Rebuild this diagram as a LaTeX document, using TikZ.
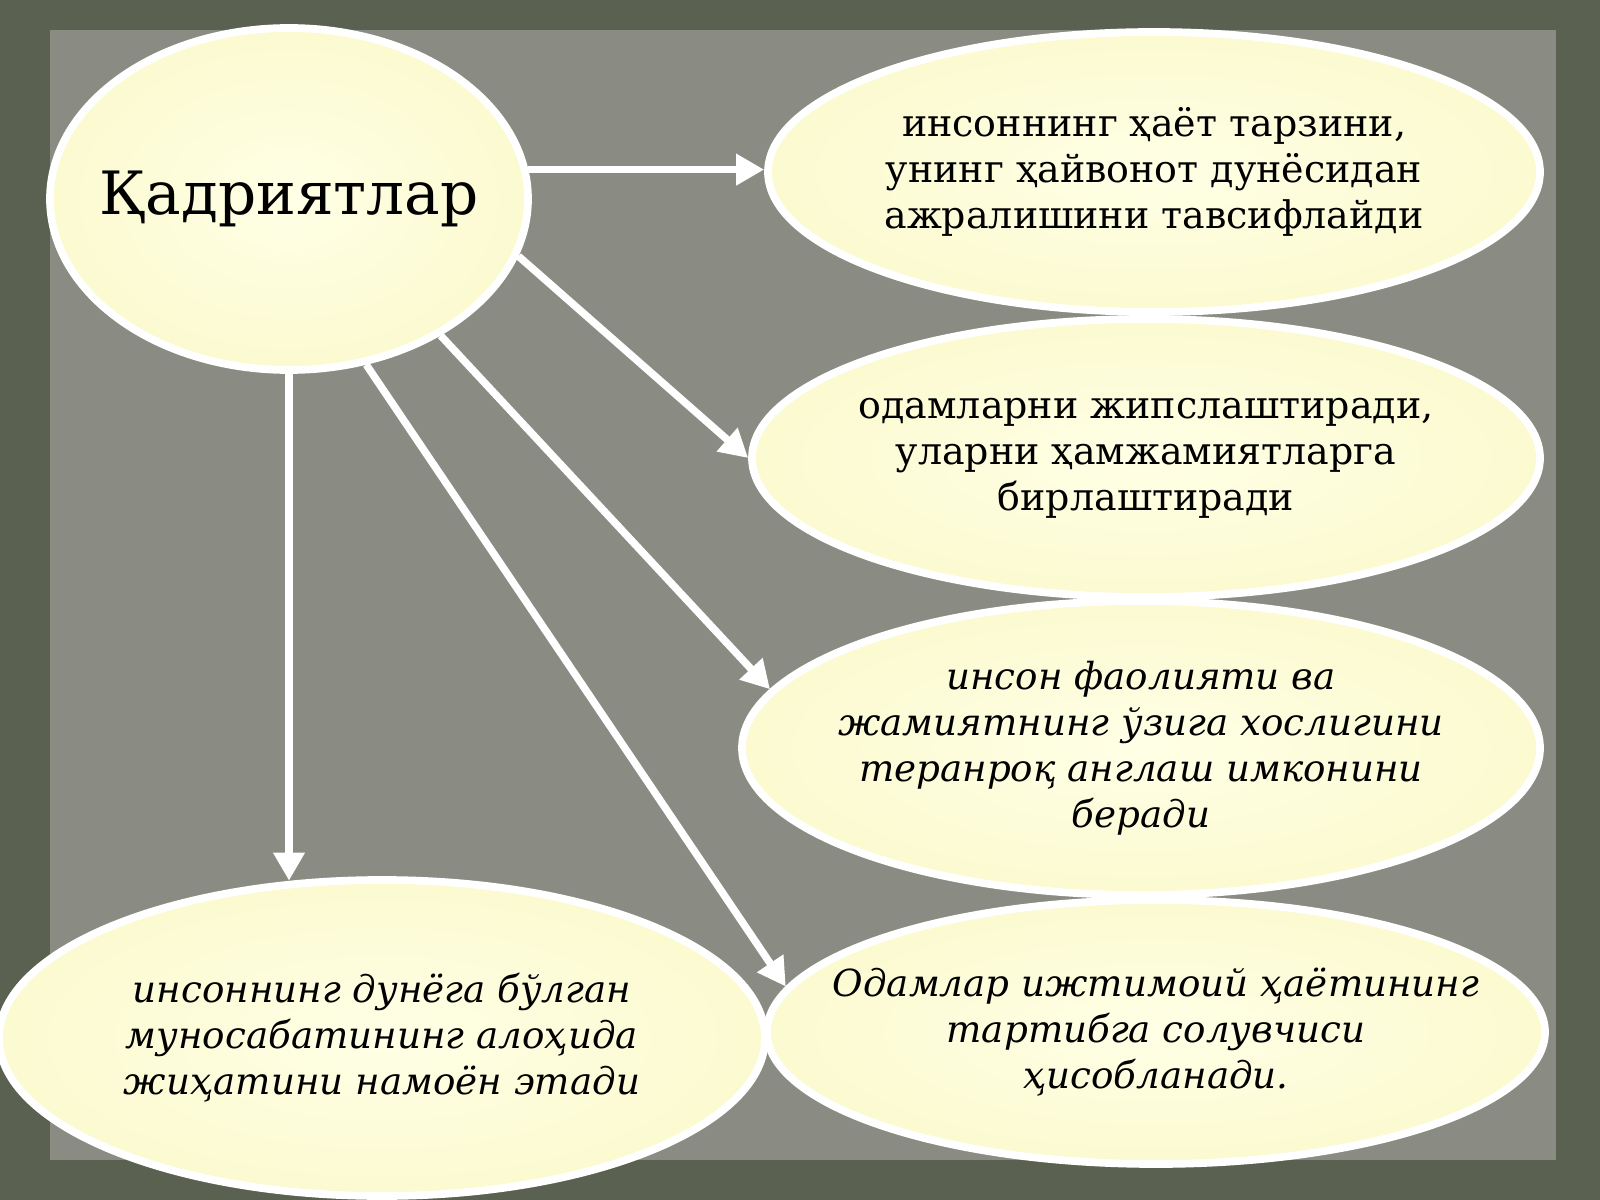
\documentclass[tikz,border=0pt]{standalone}
\usepackage{fontspec}
\setmainfont{DejaVu Serif}
\usetikzlibrary{arrows.meta,shapes.geometric}

\definecolor{frameolive}{RGB}{90,97,80}
\definecolor{panelgray}{RGB}{138,140,132}
\definecolor{ovalfill}{RGB}{251,250,208}
\definecolor{ovalcore}{RGB}{255,255,230}

\begin{document}
\begin{tikzpicture}[x=0.1mm,y=-0.1mm,>={Triangle[length=2.8mm,width=3mm]},
    oval/.style={ellipse,draw=white,line width=2.2pt,inner color=ovalcore,outer color=ovalfill,
      inner xsep=-1.5cm,inner ysep=0pt,align=center,
      font=\fontsize{10.8}{13.1}\selectfont},
    ovalit/.style={oval,font=\fontsize{10.6}{13.1}\selectfont\itshape},
    link/.style={->,white,line width=0.75mm}]
    \useasboundingbox (0,0) rectangle (1600,1200);
    \fill[frameolive] (0,0) rectangle (1600,1200);
    \fill[panelgray] (50,30) rectangle (1556,1160);

    \node[oval,minimum width=4.78cm,minimum height=3.42cm,
      font=\fontsize{17}{20}\selectfont] (c) at (289,199) {Қадриятлар};
    \node[oval,minimum width=7.72cm,minimum height=2.80cm] (r1) at (1154,172)
      {инсоннинг ҳаёт тарзини,\\унинг ҳайвонот дунёсидан\\ажралишини тавсифлайди};
    \node[oval,minimum width=7.88cm,minimum height=2.78cm] (r2) at (1146,458)
      {одамларни жипслаштиради,\\уларни ҳамжамиятларга\\бирлаштиради};
    \node[ovalit,minimum width=7.98cm,minimum height=2.94cm] (r3) at (1141,748)
      {инсон фаолияти ва\\жамиятнинг ўзига хослигини\\теранроқ англаш имконини\\беради};
    \node[ovalit,minimum width=7.78cm,minimum height=2.64cm] (r4) at (1156,1032)
      {Одамлар ижтимоий ҳаётининг\\тартибга солувчиси\\ҳисобланади.};
    \node[ovalit,minimum width=7.66cm,minimum height=3.16cm] (bl) at (382,1038)
      {инсоннинг дунёга бўлган\\муносабатининг алоҳида\\жиҳатини намоён этади};

    \draw[link] (c.7.5) -- (c.7.5 -| r1.west);
    \draw[link] (c.-14.6) -- (r2.west);
    \draw[link] (c.-42) -- (r3.171.5);
    \draw[link] (c.-65.4) -- (r4.173.6);
    \draw[link] (c.south) -- (c.south |- bl.120.7);
\end{tikzpicture}
\end{document}
